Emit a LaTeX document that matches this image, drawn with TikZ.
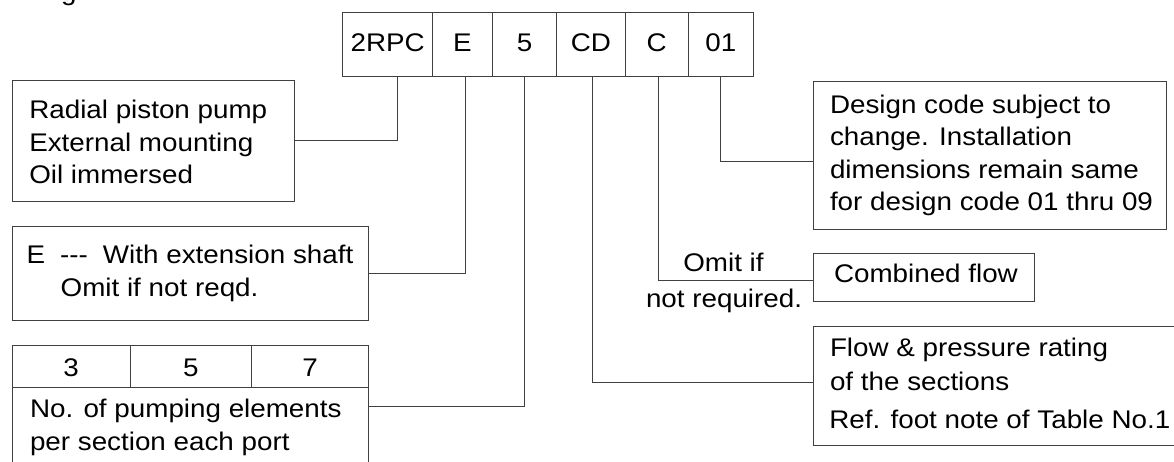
\documentclass[tikz,border=0pt]{standalone}
\usepackage{fontspec}
\newfontfamily\af{Liberation Sans}[FakeStretch=1.09]
\begin{document}
\begin{tikzpicture}[x=1pt,y=-1pt,
  box/.style={draw=black!75,line width=0.8pt,anchor=north west,inner sep=0pt,outer sep=0pt},
  cell/.style={box,font=\af\fontsize{25.5}{30}\selectfont},
  codecell/.style={cell,minimum height=64.4pt,text height=18.3pt,text depth=3.9pt},
  tabcell/.style={cell,minimum height=42.7pt,text height=20.7pt,text depth=0pt},
  txt/.style={anchor=base west,inner sep=0pt,outer sep=0pt,font=\af\fontsize{25.5}{30}\selectfont},
  conn/.style={draw=black!75,line width=0.8pt}]
\clip (0,0) rectangle (1174,461);
% cut-off heading glyph
\node[txt] (hdr) at (61,0) {g};
% code row
\node[codecell,minimum width=90pt] (cA) at (342.7,12.3) {2RPC};
\node[codecell,minimum width=59.6pt] (cB) at (432.7,12.3) {E};
\node[codecell,minimum width=64.4pt] (cC) at (492.3,12.3) {5};
\node[codecell,minimum width=68.3pt] (cD) at (556.7,12.3) {CD};
\node[codecell,minimum width=63.3pt] (cE) at (625,12.3) {C};
\node[codecell,minimum width=65pt] (cF) at (688.3,12.3) {01};
% left boxes
\node[box,minimum width=282.4pt,minimum height=121.7pt] (radial) at (12.3,80) {};
\node[txt] (r1) at (29.3,118.3) {Radial piston pump};
\node[txt] (r2) at (29.3,151) {External mounting};
\node[txt] (r3) at (29.3,183.5) {Oil immersed};
\node[box,minimum width=356pt,minimum height=93.3pt] (ebox) at (12.3,226.7) {};
\node[txt] (e1) at (26.7,263.3) {E\hspace{15pt}-{}-{}-\hspace{15pt}With extension shaft};
\node[txt] (e2) at (60.7,296.7) {Omit if not reqd.};
\node[box,minimum width=356pt,minimum height=122pt] (table) at (12.3,345) {};
\node[tabcell,minimum width=117.7pt] (t3) at (12.3,345) {3};
\node[tabcell,minimum width=121.7pt] (t5) at (130,345) {5};
\node[tabcell,minimum width=116.6pt] (t7) at (251.7,345) {7};
\node[txt] (n1) at (30,417.7) {No. of pumping elements};
\node[txt] (n2) at (30,450) {per section each port};
% right boxes
\node[box,minimum width=353.4pt,minimum height=148pt] (design) at (813.3,81) {};
\node[txt] (d1) at (830,113.3) {Design code subject to};
\node[txt] (d2) at (830,145) {change. Installation};
\node[txt] (d3) at (830,178.3) {dimensions remain same};
\node[txt] (d4) at (830,210) {for design code 01 thru 09};
\node[box,minimum width=221pt,minimum height=47.9pt] (comb) at (813.3,253.3) {};
\node[txt] (c1) at (834,282.7) {Combined flow};
\node[box,minimum width=382pt,minimum height=118.3pt] (flow) at (813.3,326.7) {};
\node[txt] (f1) at (830,356) {Flow \& pressure rating};
\node[txt] (f2) at (830,390) {of the sections};
\node[txt] (f3) at (829.3,428.3) {Ref. foot note of Table No.1};
\node[txt] (o1) at (683.3,271.7) {Omit if};
\node[txt] (o2) at (646,307.3) {not required.};
% connector end points on box edges
\coordinate (pdes) at (813.3,161.7);
\coordinate (pcomb) at (813.3,280.7);
\coordinate (pflow) at (813.3,382.7);
% connectors
\path[conn] (radial.east) -| ([xshift=10pt]cA.south);
\path[conn] (ebox.east) -| ([xshift=2.5pt]cB.south);
\path[conn] (table.east) -| (cC.south);
\path[conn] ([xshift=1.7pt]cD.south) |- (pflow);
\path[conn] ([xshift=1.6pt]cE.south) |- (pcomb);
\path[conn] (cF.south) |- (pdes);
\end{tikzpicture}
\end{document}
